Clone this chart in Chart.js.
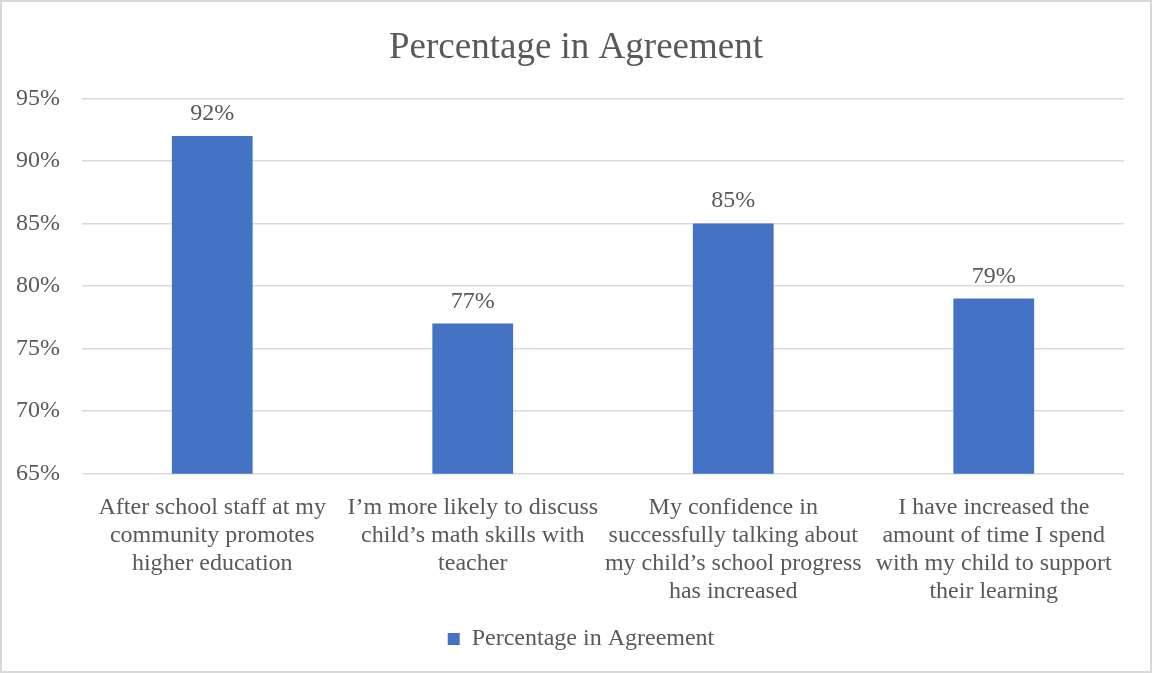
<!DOCTYPE html>
<html lang="en">
<head>
<meta charset="UTF-8">
<title>Percentage in Agreement</title>
<script src="https://cdn.jsdelivr.net/npm/chart.js@4"></script>
<style>
  body { margin: 0; background: #fff; }
  canvas { display: block; }
</style>
</head>
<body>
<canvas id="chart" width="1152" height="673"></canvas>
<script>
  // category labels, already broken into lines
  const categories = [
    ['After school staff at my', 'community promotes', 'higher education'],
    ['I\u2019m more likely to discuss', 'child\u2019s math skills with', 'teacher'],
    ['My confidence in', 'successfully talking about', 'my child\u2019s school progress', 'has increased'],
    ['I have increased the', 'amount of time I spend', 'with my child to support', 'their learning']
  ];
  const agreement = [92, 77, 85, 79];
  const yTicks = [65, 70, 75, 80, 85, 90, 95];

  const serif = '"Liberation Serif", "Times New Roman", serif';
  const grey = '#595959';
  const blue = '#4472C4';

  // white background + thin frame
  const frame = {
    id: 'frame',
    beforeDraw(chart) {
      const c = chart.ctx;
      c.save();
      c.fillStyle = '#fff';
      c.fillRect(0, 0, chart.width, chart.height);
      c.strokeStyle = '#d9d9d9';
      c.lineWidth = 2;
      c.strokeRect(1, 1, chart.width - 2, chart.height - 2);
      c.restore();
    }
  };

  // title and legend are centred on the canvas, not on the padded box
  const nudgeBoxes = {
    id: 'nudgeBoxes',
    afterLayout(chart) {
      chart.titleBlock.left += 14;
      chart.titleBlock.right += 14;
      chart.legend.left += 19;
      chart.legend.right += 19;
    }
  };

  // value text above each bar
  const valueLabels = {
    id: 'valueLabels',
    afterDatasetsDraw(chart) {
      const c = chart.ctx;
      const ds = chart.data.datasets[0];
      c.save();
      c.font = '24px ' + serif;
      c.fillStyle = grey;
      c.textAlign = 'center';
      c.textBaseline = 'alphabetic';
      chart.getDatasetMeta(0).data.forEach((bar, i) => {
        c.fillText(ds.data[i] + '%', bar.x, bar.y - 16);
      });
      c.restore();
    }
  };

  new Chart(document.getElementById('chart'), {
    type: 'bar',
    data: {
      labels: categories,
      datasets: [{
        label: 'Percentage in Agreement',
        data: agreement,
        backgroundColor: blue,
        categoryPercentage: 1,
        barPercentage: 0.31
      }]
    },
    options: {
      responsive: false,
      animation: false,
      layout: { padding: { left: 0, right: 28, top: 0, bottom: 12 } },
      plugins: {
        title: {
          display: true,
          text: 'Percentage in Agreement',
          color: grey,
          font: { family: serif, size: 37, weight: 'normal', lineHeight: 1.2 },
          padding: { top: 26, bottom: 28 }
        },
        legend: {
          position: 'bottom',
          labels: {
            color: grey,
            font: { family: serif, size: 24 },
            boxWidth: 12,
            boxHeight: 12,
            padding: 10
          }
        },
        tooltip: { enabled: false }
      },
      scales: {
        x: {
          grid: { display: false },
          border: { display: false },
          ticks: {
            color: grey,
            font: { family: serif, size: 24, lineHeight: 1.17 },
            maxRotation: 0,
            autoSkip: false,
            padding: 11.5
          }
        },
        y: {
          min: yTicks[0],
          max: yTicks[yTicks.length - 1],
          afterBuildTicks(scale) {
            scale.ticks = yTicks.map(v => ({ value: v }));
          },
          afterFit(scale) {
            scale.width = 82;
          },
          grid: { color: '#d9d9d9', lineWidth: 1.5, drawTicks: false },
          border: { display: false },
          ticks: {
            color: grey,
            font: { family: serif, size: 24 },
            padding: 22,
            callback: v => v + '%'
          }
        }
      }
    },
    plugins: [frame, nudgeBoxes, valueLabels]
  });
</script>
</body>
</html>
